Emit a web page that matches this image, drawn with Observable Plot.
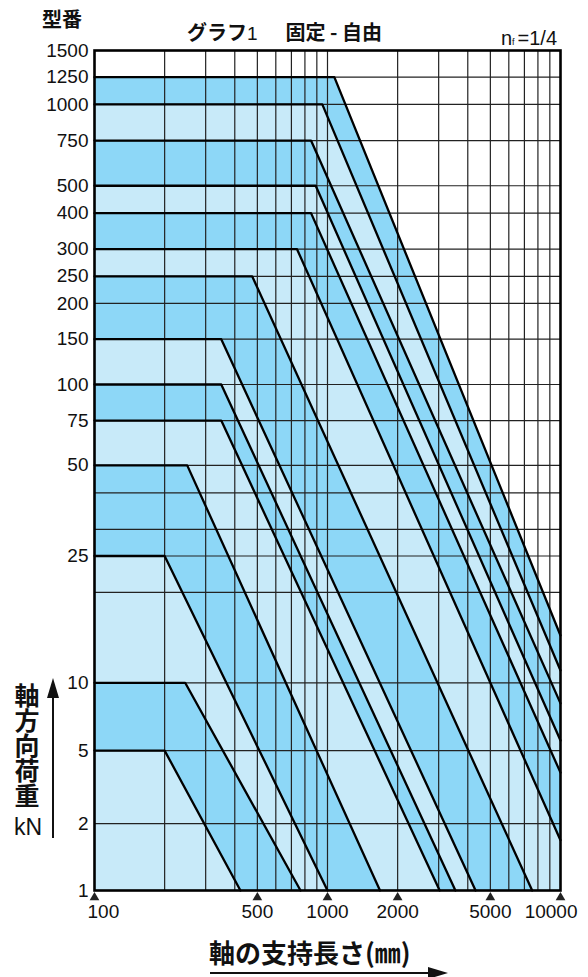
<!DOCTYPE html>
<html><head><meta charset="utf-8">
<script src="https://cdn.jsdelivr.net/npm/d3@7"></script>
<script src="https://cdn.jsdelivr.net/npm/@observablehq/plot@0.6"></script>
<style>
body{margin:0;background:#fff;}
#wrap{position:relative;width:588px;height:977px;font-family:"Liberation Sans",Arial,sans-serif;color:#111;}
#wrap svg{position:absolute;left:0;top:0;}
.t{position:absolute;white-space:nowrap;line-height:1;}
.jp{font-family:"Noto Sans CJK JP",sans-serif;font-weight:700;}
</style></head><body><div id="wrap">
<div class="t jp" style="left:42px;top:9px;font-size:20px;">型番</div>
<div class="t jp" style="left:187px;top:22px;font-size:20px;">グラフ<span style="font-family:'Liberation Sans';font-weight:400;font-size:19px;">1</span><span style="margin-left:28px;">固定 - 自由</span></div>
<div class="t" style="right:31px;top:28px;font-size:20px;">n<span style="font-size:9px;">f</span><span style="margin-left:3px;">=1/4</span></div>
<div class="t jp" style="left:14px;top:683px;font-size:25px;writing-mode:vertical-rl;text-orientation:upright;">軸方向荷重</div>
<div class="t" style="left:14px;top:816px;font-size:23px;">kN</div>
<div style="position:absolute;left:52px;top:696px;width:2px;height:142px;background:#111;"></div>
<div style="position:absolute;left:47px;top:678px;width:0;height:0;border-left:6px solid transparent;border-right:6px solid transparent;border-bottom:20px solid #111;"></div>
<div class="t jp" style="left:209px;top:939px;font-size:26px;">軸の支持長さ(㎜)</div>
<div style="position:absolute;left:210px;top:972px;width:222px;height:2px;background:#111;"></div>
<div style="position:absolute;left:428px;top:967px;width:0;height:0;border-top:6px solid transparent;border-bottom:6px solid transparent;border-left:20px solid #111;"></div>
</div>
<script>
// model numbers (型番), top to bottom
const modelLabels = [1250, 1000, 750, 500, 400, 300, 250, 150, 100, 75, 50, 25, 10, 5];
// plateau load of each model (kN)
const plateauKN = [1189, 938, 685, 462, 364, 266, 210, 121.5, 81.9, 59.8, 40.5, 18.4, 6.10, 3.38];
// support length where the buckling line starts (mm)
const kneeMM = [1070, 950, 850, 890, 850, 740, 475, 350, 350, 350, 250, 200, 245, 200];
// end point of each buckling line
const endMM = [10000, 10000, 10000, 10000, 10000, 10000, 7560, 4320, 3540, 3030, 1680, 1000, 766, 423];
const endKN = [9.21, 6.79, 5.10, 3.69, 2.79, 1.55, 1, 1, 1, 1, 1, 1, 1, 1];
// y tick labels and their positions (kN)
const yTickLabels = ["1500","1250","1000","750","500","400","300","250","200","150","100","75","50","25","10","5","2","1"];
const yTickKN = [1500, 1189, 938, 685, 462, 364, 266, 210, 165.8, 121.5, 81.9, 59.8, 40.5, 18.4, 6.10, 3.38, 1.79, 1];
const yExtraGridKN = [31.9, 23.2, 13.4];
// x axis
const xTicks = [100, 500, 1000, 2000, 5000, 10000];
const xGrid = [200,300,400,500,600,700,800,900,1000,2000,3000,4000,5000,6000,7000,8000,9000];

const dark = "#8dd7f7", light = "#c8eaf9";
const curves = modelLabels.map((m, i) => ({
  model: m, i,
  pts: [
    {x: 100, y: plateauKN[i]},
    {x: kneeMM[i], y: plateauKN[i]},
    {x: endMM[i], y: endKN[i]}
  ]
}));
const yTicks = yTickKN.map((v, i) => ({v, label: yTickLabels[i]}));

const areas = curves.map(c => Plot.areaY(c.pts, {x: "x", y1: () => 1, y2: "y", fill: c.i % 2 === 0 ? dark : light}));
const lines = curves.map(c => Plot.line(c.pts, {x: "x", y: "y", stroke: "#000", strokeWidth: 2.3}));
const txt = {fontSize: 19, fill: "#111", fontFamily: "Liberation Sans, Arial, sans-serif"};

const chart = Plot.plot({
  width: 588, height: 977,
  marginLeft: 94, marginRight: 28, marginTop: 50, marginBottom: 87,
  style: {fontFamily: "Liberation Sans, Arial, sans-serif", fontSize: "19px", color: "#111", background: "transparent"},
  x: {type: "log", domain: [100, 10000], axis: null},
  y: {type: "log", domain: [1, 1500], axis: null},
  marks: [
    ...areas,
    Plot.ruleX(xGrid, {stroke: "#222", strokeWidth: 1.2}),
    Plot.ruleY(yTickKN.concat(yExtraGridKN), {stroke: "#222", strokeWidth: 1.2}),
    ...lines,
    Plot.frame({stroke: "#000", strokeWidth: 2.6}),
    Plot.text(yTicks, {y: "v", text: "label", frameAnchor: "left", textAnchor: "end", dx: -6, ...txt}),
    Plot.text(xTicks.slice(0, 1), {x: d => d, text: d => String(d), frameAnchor: "bottom", dy: 27, textAnchor: "start", dx: -7, ...txt}),
    Plot.text(xTicks.slice(1, -1), {x: d => d, text: d => String(d), frameAnchor: "bottom", dy: 27, ...txt}),
    Plot.text(xTicks.slice(-1), {x: d => d, text: d => String(d), frameAnchor: "bottom", dy: 27, textAnchor: "end", dx: 17, ...txt}),
    Plot.dot(xTicks, {x: d => d, frameAnchor: "bottom", dy: 7, symbol: "triangle", r: 3.6, fill: "#222", stroke: null})
  ]
});
document.getElementById("wrap").prepend(chart);
</script>
</body></html>
